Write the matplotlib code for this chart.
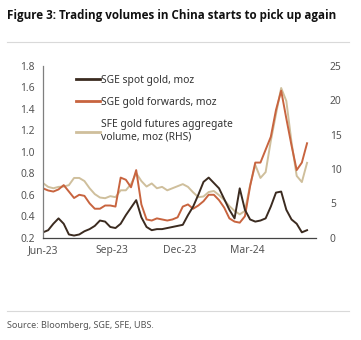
import matplotlib
matplotlib.use("Agg")
import matplotlib.pyplot as plt
import matplotlib.dates as mdates
from matplotlib.lines import Line2D
import pandas as pd

plt.rcParams["font.family"] = ["Noto Sans", "DejaVu Sans"]

# weekly observations, Jun-23 to May-24
start_date = "2023-06-01"
end_date = "2024-05-20"

# SGE spot gold volume, moz (left axis)
sge_spot = [0.25, 0.27, 0.33, 0.38, 0.33, 0.23, 0.22, 0.23, 0.26, 0.28,
            0.31, 0.36, 0.35, 0.30, 0.29, 0.33, 0.41, 0.48, 0.55, 0.39,
            0.30, 0.27, 0.28, 0.28, 0.29, 0.30, 0.31, 0.32, 0.41, 0.49,
            0.60, 0.72, 0.76, 0.71, 0.66, 0.56, 0.46, 0.38, 0.66, 0.46,
            0.37, 0.35, 0.36, 0.38, 0.49, 0.62, 0.63, 0.46, 0.37, 0.33,
            0.25, 0.27]

# SGE gold forwards volume, moz (left axis)
sge_forwards = [0.66, 0.64, 0.63, 0.65, 0.69, 0.63, 0.57, 0.60, 0.59, 0.52,
                0.47, 0.47, 0.50, 0.50, 0.49, 0.76, 0.74, 0.67, 0.83, 0.51,
                0.37, 0.36, 0.38, 0.37, 0.36, 0.37, 0.39, 0.49, 0.51, 0.47,
                0.50, 0.54, 0.60, 0.60, 0.55, 0.48, 0.38, 0.35, 0.34, 0.40,
                0.68, 0.90, 0.90, 1.02, 1.14, 1.39, 1.57, 1.31, 1.06, 0.83,
                0.90, 1.08]

# SFE gold futures aggregate volume, moz (right axis)
sfe_futures = [7.95, 7.4, 7.2, 7.4, 7.45, 7.65, 8.7, 8.7, 8.25, 7.2,
               6.35, 5.85, 5.75, 6.05, 5.9, 6.9, 6.9, 7.8, 9.4, 8.25,
               7.45, 7.9, 7.2, 7.4, 6.9, 7.2, 7.5, 7.8, 7.4, 6.6,
               5.9, 6.0, 6.65, 6.8, 6.2, 5.5, 4.6, 3.9, 3.4, 3.9,
               7.65, 10.6, 8.7, 9.55, 14.1, 18.0, 21.8, 19.9, 13.9, 9.0,
               8.1, 10.9]

left_ticks = [0.2, 0.4, 0.6, 0.8, 1.0, 1.2, 1.4, 1.6, 1.8]
right_ticks = [0, 5, 10, 15, 20, 25]
month_ticks = ["2023-06-01", "2023-09-01", "2023-12-01", "2024-03-01"]

dates = pd.date_range(start_date, end_date, periods=len(sge_spot))

c_spot = "#3b2b20"
c_fwd = "#c8643f"
c_sfe = "#cfbf9c"
c_text = "#555555"

fig = plt.figure(figsize=(3.61, 3.40), dpi=100)
ax1 = fig.add_axes([43 / 361, 1 - 237.7 / 340, 273 / 361, 171.7 / 340])
ax2 = ax1.twinx()

ax2.plot(dates, sfe_futures, color=c_sfe, lw=1.4)
ax1.plot(dates, sge_forwards, color=c_fwd, lw=1.4)
ax1.plot(dates, sge_spot, color=c_spot, lw=1.4)

ax1.set_zorder(ax2.get_zorder() + 1)
ax1.patch.set_visible(False)

ax1.set_xlim(pd.Timestamp("2023-06-01"), pd.Timestamp("2024-06-01"))
ax1.set_ylim(0.2, 1.8)
ax2.set_ylim(0, 25)
ax1.set_yticks(left_ticks)
ax1.set_yticklabels([f"{t:.1f}" for t in left_ticks])
ax2.set_yticks(right_ticks)
ax1.set_xticks(pd.to_datetime(month_ticks))
ax1.xaxis.set_major_formatter(mdates.DateFormatter("%b-%y"))

for ax in (ax1, ax2):
    for s in ax.spines.values():
        s.set_visible(False)
    ax.tick_params(length=0, labelsize=7.4, colors=c_text)
ax1.spines["left"].set_visible(True)
ax1.spines["left"].set_color("#7f7f7f")
ax1.spines["left"].set_linewidth(0.9)
ax1.spines["bottom"].set_visible(True)
ax1.spines["bottom"].set_color("#444444")
ax1.spines["bottom"].set_linewidth(0.9)
ax1.tick_params(axis="y", pad=6)
ax1.tick_params(axis="x", pad=5)
ax2.tick_params(axis="y", pad=10)

handles = [Line2D([], [], color=c_spot, lw=2),
           Line2D([], [], color=c_fwd, lw=2),
           Line2D([], [], color=c_sfe, lw=2)]
labels = ["SGE spot gold, moz", "SGE gold forwards, moz",
          "SFE gold futures aggregate\nvolume, moz (RHS)"]
leg = ax1.legend(handles, labels, loc="upper left",
                 bbox_to_anchor=(0.1, 0.985), frameon=False,
                 fontsize=7.4, handlelength=2.3, handletextpad=0.1,
                 labelspacing=1.1, borderaxespad=0.2)
for t in leg.get_texts():
    t.set_color("#333333")

fig.text(7 / 361, 1 - 15 / 340, "Figure 3: Trading volumes in China starts to pick up again",
         fontsize=8.4, fontweight="bold", family=["Open Sans", "DejaVu Sans"],
         color="#111111", va="center")
fig.add_artist(Line2D([7 / 361, 349 / 361], [1 - 42 / 340, 1 - 42 / 340],
                      color="#d9d9d9", lw=0.8))
fig.add_artist(Line2D([7 / 361, 349 / 361], [1 - 311 / 340, 1 - 311 / 340],
                      color="#d9d9d9", lw=0.8))
fig.text(7 / 361, 1 - 325 / 340, "Source: Bloomberg, SGE, SFE, UBS.",
         fontsize=6.5, color="#555555", va="center")

fig.savefig("out.png", dpi=100)
